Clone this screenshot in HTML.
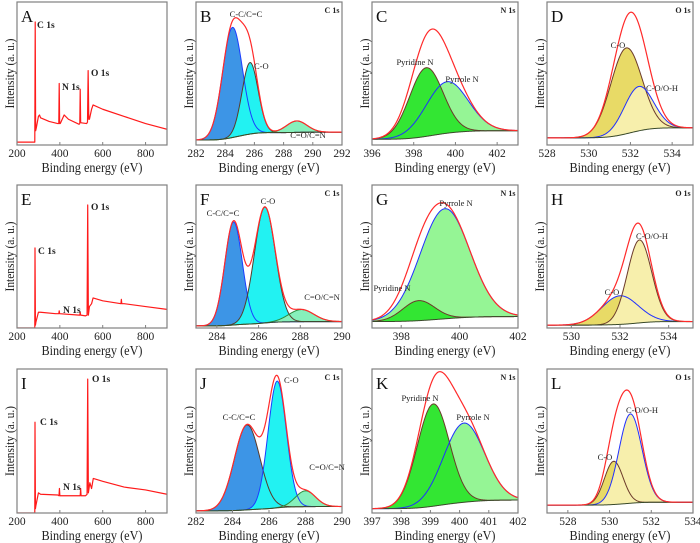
<!DOCTYPE html>
<html><head><meta charset="utf-8">
<style>
html,body{margin:0;padding:0;background:#fff;}
svg{display:block;font-family:"Liberation Serif",serif;}
</style></head>
<body>
<svg id="fig" width="700" height="543" viewBox="0 0 700 543" xmlns="http://www.w3.org/2000/svg"></svg>
<script>
// ---- data ----
const panelLetters = ['A','B','C','D','E','F','G','H','I','J','K','L'];
const xMin = [200,282,396,528,200,283,397,529,200,282,397,527];
const xMax = [900,292,403,535,900,290,402,535,900,290,402,534];
const tickValues = [
 [200,400,600,800],[282,284,286,288,290,292],[396,398,400,402],[528,530,532,534],
 [200,400,600,800],[284,286,288,290],[398,400,402],[530,532,534],
 [200,400,600,800],[282,284,286,288,290],[397,398,399,400,401,402],[528,530,532,534]];
const regionTitles = ['', 'C 1s','N 1s','O 1s','', 'C 1s','N 1s','O 1s','', 'C 1s','N 1s','O 1s'];

// survey spectra (binding energy, normalized intensity)
const surveyA_x = [200,280,283,285,287,290,300,305,310,350,390,395,397,399,402,420,440,490,493,495,497,500,525,529,532,535,538,548,555,600,700,800,900];
const surveyA_y = [0.02,0.02,0.02,0.86,0.10,0.12,0.20,0.21,0.19,0.165,0.15,0.15,0.43,0.15,0.15,0.21,0.18,0.145,0.15,0.39,0.16,0.155,0.15,0.16,0.52,0.18,0.18,0.25,0.28,0.25,0.20,0.15,0.11];
const surveyE_x = [200,280,283,284,286,288,300,310,380,395,397,399,490,493,495,497,520,527,530,533,538,548,555,600,685,687,689,700,800,900];
const surveyE_y = [0.0,0.0,0.0,0.56,0.02,0.04,0.11,0.11,0.10,0.10,0.12,0.10,0.09,0.09,0.11,0.09,0.085,0.09,0.86,0.09,0.15,0.17,0.21,0.19,0.17,0.20,0.17,0.17,0.15,0.13];
const surveyI_x = [200,280,283,284,286,288,300,310,390,396,398,400,402,490,495,497,499,520,527,530,533,540,548,556,600,700,800,900];
const surveyI_y = [0.0,0.0,0.0,0.63,0.03,0.05,0.14,0.13,0.125,0.12,0.17,0.12,0.12,0.12,0.12,0.17,0.12,0.12,0.13,0.93,0.14,0.21,0.17,0.24,0.22,0.18,0.16,0.13];

// peak fit components: centers (eV), heights (fraction of box), widths (sigma eV)
const peakCentersB = [284.5,285.7,288.9], peakHeightsB = [0.77,0.50,0.08], peakWidthsB = [0.68,0.55,0.7];
const peakCentersC = [398.6,399.6], peakHeightsC = [0.48,0.36], peakWidthsC = [0.8,1.0];
const peakCentersD = [531.8,532.4], peakHeightsD = [0.60,0.31], peakWidthsD = [0.75,0.7];
const peakCentersF = [284.8,286.3,288.05], peakHeightsF = [0.72,0.81,0.085], peakWidthsF = [0.42,0.5,0.6];
const peakCentersG = [398.6,399.5], peakHeightsG = [0.14,0.77], peakWidthsG = [0.55,0.85];
const peakCentersH = [532.0,532.8], peakHeightsH = [0.20,0.58], peakWidthsH = [0.75,0.5];
const peakCentersJ = [284.8,286.45,288.0], peakHeightsJ = [0.59,0.88,0.11], peakWidthsJ = [0.7,0.5,0.55];
const peakCentersK = [399.1,400.15], peakHeightsK = [0.71,0.55], peakWidthsK = [0.55,0.7];
const peakCentersL = [530.2,531.0], peakHeightsL = [0.30,0.62], peakWidthsL = [0.45,0.55];
const baselineLeft  = {B:0.035,C:0.04,D:0.05,F:0.015,G:0.045,H:0.02,J:0.015,K:0.03,L:0.055};
const baselineRight = {B:0.09,C:0.10,D:0.12,F:0.045,G:0.08,H:0.045,J:0.045,K:0.09,L:0.075};
const envelopeScale = {B:1.0,C:1.02,D:1.0,F:1.0,G:1.0,H:1.0,J:1.0,K:1.0,L:1.12};

// ---- styles / layout ----
const cols = [[17,167],[196,342],[372,518],[547,693]];
const rows = [[2,145],[185,328],[369,513]];
const styleC = {fill:['#3d95e6','#22f2f2','#86f0bb'], line:['#1b3dff','#5a3a2a','#2e8b3a'], order:[0,1,2]};
const styleN = {fill:['#33e633','#95f595'], line:['#6b3a2a','#2030ff'], order:[1,0]};
const styleO = {fill:['#e8da66','#f7efac'], line:['#6b3a2a','#2030ff'], order:[0,1]};
const panelStyles = {B:styleC,F:styleC,J:{fill:styleC.fill,line:['#5a3a2a','#1b3dff','#2e8b3a'],order:[0,1,2]},
  C:styleN,G:styleN,K:styleN,
  D:styleO,H:{fill:styleO.fill,line:['#2030ff','#6b3a2a'],order:[0,1]},L:styleO};
const annotations = {
 A:[['C 1s',37,28,'start'],['N 1s',62,90,'start'],['O 1s',91,76,'start']],
 B:[['C-C/C=C',246,17,'middle'],['C-O',254,69,'start'],['C=O/C=N',308,138,'middle']],
 C:[['Pyridine N',415,65,'middle'],['Pyrrole N',462,82,'middle']],
 D:[['C-O',618,48,'middle'],['C-O/O-H',662,91,'middle']],
 E:[['O 1s',91,210,'start'],['C 1s',38,254,'start'],['N 1s',63,313,'start']],
 F:[['C-C/C=C',223,216,'middle'],['C-O',268,204,'middle'],['C=O/C=N',322,300,'middle']],
 G:[['Pyrrole N',456,206,'middle'],['Pyridine N',392,291,'middle']],
 H:[['C-O/O-H',652,239,'middle'],['C-O',612,295,'middle']],
 I:[['O 1s',92,382,'start'],['C 1s',40,425,'start'],['N 1s',63,490,'start']],
 J:[['C-C/C=C',239,420,'middle'],['C-O',284,383,'start'],['C=O/C=N',327,470,'middle']],
 K:[['Pyridine N',420,401,'middle'],['Pyrrole N',473,420,'middle']],
 L:[['C-O/O-H',642,413,'middle'],['C-O',605,460,'middle']]
};
const peakData = {
 B:[peakCentersB,peakHeightsB,peakWidthsB],C:[peakCentersC,peakHeightsC,peakWidthsC],D:[peakCentersD,peakHeightsD,peakWidthsD],
 F:[peakCentersF,peakHeightsF,peakWidthsF],G:[peakCentersG,peakHeightsG,peakWidthsG],H:[peakCentersH,peakHeightsH,peakWidthsH],
 J:[peakCentersJ,peakHeightsJ,peakWidthsJ],K:[peakCentersK,peakHeightsK,peakWidthsK],L:[peakCentersL,peakHeightsL,peakWidthsL]};
const surveyData = {A:[surveyA_x,surveyA_y],E:[surveyE_x,surveyE_y],I:[surveyI_x,surveyI_y]};

const NS='http://www.w3.org/2000/svg';
const svg=document.getElementById('fig');
function mk(tag,attrs,parent){const e=document.createElementNS(NS,tag);for(const k in attrs)e.setAttribute(k,attrs[k]);(parent||svg).appendChild(e);return e;}
function pts(a){return a.map(p=>p[0].toFixed(2)+','+p[1].toFixed(2)).join(' ');}

panelLetters.forEach((L,i)=>{
  const c=cols[i%4], r=rows[Math.floor(i/4)];
  const x0=c[0],x1=c[1],y0=r[0],y1=r[1],H=y1-y0;
  const sx=v=>x0+(v-xMin[i])/(xMax[i]-xMin[i])*(x1-x0);
  const sy=f=>y1-f*H;
  const g=mk('g',{});
  
  
  const clipId='clip'+L;
  const cp=mk('clipPath',{id:clipId},g); mk('rect',{x:x0,y:y0,width:x1-x0,height:H},cp);
  const plot=mk('g',{'clip-path':'url(#'+clipId+')'},g);
  
  

  if(surveyData[L]){
    const [xs,ys]=surveyData[L];
    const pl=mk('polyline',{points:pts(xs.map((v,k)=>[sx(v),sy(ys[k])])),fill:'none',stroke:'#ff1a1a','stroke-width':1.2,'stroke-linejoin':'round'},plot);
    
    
  } else {
    const [cs,hs,ws]=peakData[L]; const st=panelStyles[L];
    const N=240, grid=[];
    for(let k=0;k<=N;k++)grid.push(xMin[i]+(xMax[i]-xMin[i])*k/N);
    const comp=cs.map((cc,j)=>grid.map(x=>hs[j]*Math.exp(-Math.pow(x-cc,2)/(2*ws[j]*ws[j]))));
    const tot=grid.map((x,k)=>comp.reduce((s,a)=>s+a[k],0));
    let cum=[],acc=0; tot.forEach(v=>{acc+=v;cum.push(acc);});
    const base=grid.map((x,k)=>baselineLeft[L]+(baselineRight[L]-baselineLeft[L])*cum[k]/acc);
    st.order.forEach(j=>{
      const a=comp[j];
      const top=grid.map((x,k)=>[sx(x),sy(base[k]+a[k])]);
      const bot=grid.map((x,k)=>[sx(x),sy(base[k])]).reverse();
      const f=mk('polygon',{points:pts(top.concat(bot)),fill:st.fill[j],stroke:'none'},plot);
      
      
    });
    comp.forEach((a,j)=>{
      const ln=mk('polyline',{points:pts(grid.map((x,k)=>[sx(x),sy(base[k]+a[k])])),fill:'none',stroke:st.line[j],'stroke-width':1},plot);
      
      
    });
    const bl=mk('polyline',{points:pts(grid.map((x,k)=>[sx(x),sy(base[k])])),fill:'none',stroke:'#3a4a2a','stroke-width':1},plot);
    
    
    const env=mk('polyline',{points:pts(grid.map((x,k)=>[sx(x),sy(base[k]+tot[k]*envelopeScale[L])])),fill:'none',stroke:'#ff2a2a','stroke-width':1.2},plot);
    
    
  }
  const box=mk('rect',{x:x0,y:y0,width:x1-x0,height:H,fill:'none',stroke:'#808080','stroke-width':1.2},g);
  
  
  tickValues[i].forEach(v=>{
    const X=sx(v);
    const tk=mk('line',{x1:X,y1:y1,x2:X,y2:y1-3,stroke:'#808080','stroke-width':1},g);
    
    
    const t=mk('text',{x:X,y:y1+12,'font-size':11.5,'text-anchor':'middle',fill:'#222'},g);
    t.textContent=v;
    
    
  });
  const xl=mk('text',{x:(x0+x1)/2,y:y1+27,'font-size':14,'text-anchor':'middle',fill:'#222',textLength:101,lengthAdjust:'spacingAndGlyphs'},g);
  xl.textContent='Binding energy (eV)';
  
  
  const yc=(y0+y1)/2, yx=x0-7;
  const yl=mk('text',{x:yx,y:yc,'font-size':12.5,'text-anchor':'middle','dominant-baseline':'central',fill:'#222',transform:'rotate(-90 '+yx+' '+yc+')',textLength:70,lengthAdjust:'spacingAndGlyphs'},g);
  yl.textContent='Intensity (a. u.)';
  
  
  const pl=mk('text',{x:x0+4,y:y0+20,'font-size':17,fill:'#111'},g);
  pl.textContent=L;
  
  
  if(regionTitles[i]){
    const rt=mk('text',{x:x1-10,y:y0+11,'font-size':8,'text-anchor':'middle','font-weight':'bold',fill:'#222'},g);
    rt.textContent=regionTitles[i];
    
    
  }
  (annotations[L]||[]).forEach(a=>{
    const isSurvey=!!surveyData[L];
    const t=mk('text',{x:a[1],y:a[2],'font-size':isSurvey?9.5:8.5,'text-anchor':a[3],fill:'#222','font-weight':isSurvey?'bold':'normal'},g);
    t.textContent=a[0];
    
    
  });
});
</script>
</body></html>
